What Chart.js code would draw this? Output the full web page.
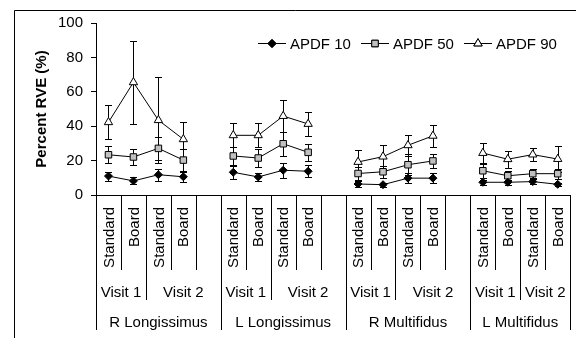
<!DOCTYPE html>
<html>
<head>
<meta charset="utf-8">
<script src="https://cdn.jsdelivr.net/npm/chart.js@4.4.1/dist/chart.umd.min.js"></script>
<style>
  html, body { margin: 0; padding: 0; background: #fff; }
  #wrap { position: relative; width: 576px; height: 338px; }
</style>
</head>
<body>
<div id="wrap"><canvas id="chart" width="576" height="338"></canvas></div>
<script>
// categories (three levels), one blank slot between muscles
const muscles = ['R Longissimus', 'L Longissimus', 'R Multifidus', 'L Multifidus'];
const visits = ['Visit 1', 'Visit 2'];
const postures = ['Standard', 'Board'];

// values, 16 per series (muscle > visit > posture)
const apdf10 = [11, 8.2, 11.8, 10.6, 13.2, 10.5, 14.4, 13.8, 6.4, 6.0, 9.8, 9.8, 7.4, 7.4, 7.8, 6.2];
const err10 = [2.6, 2, 3.5, 3, 3.7, 2.2, 4.4, 3.6, 1.5, 1.2, 3, 3, 1.5, 1.5, 1.5, 1];
const apdf50 = [23.4, 22.1, 27.1, 20.3, 22.7, 21.5, 29.8, 24.8, 12.5, 13.5, 17.6, 19.8, 14.1, 11.2, 12.4, 12.4];
const err50 = [5, 4.4, 6.5, 6.2, 5.4, 5, 7, 5, 4, 3.5, 6, 4, 4.2, 3, 2.5, 3];
const apdf90 = [42.3, 65.5, 43.5, 32.4, 34.7, 34.7, 45.9, 41.3, 19.2, 22.3, 28.9, 34.4, 24.4, 20.8, 23.5, 20.9];
const err90 = [9.8, 24.3, 25, 10.3, 7, 7, 9.3, 7, 7, 7, 6, 6.4, 6, 5, 4, 7.5];

const yTicks = [0, 20, 40, 60, 80, 100];

const FONT = 'Liberation Sans, Arial, sans-serif';

// build flat category list
const cats = [];
muscles.forEach((m, mi) => {
  visits.forEach(v => {
    postures.forEach(p => cats.push({ muscle: m, visit: v, posture: p, blank: false }));
  });
  if (mi < muscles.length - 1) cats.push({ muscle: m, visit: visits[visits.length - 1], posture: '', blank: true });
});

// spread 16 values over the category slots (blank -> null)
function spread(arr) {
  const out = [];
  let k = 0;
  for (const c of cats) out.push(c.blank ? null : arr[k++]);
  return out;
}

const series = [
  { label: 'APDF 10', values: apdf10, errors: err10, style: 'rectRot', radius: 4, fill: '#000000' },
  { label: 'APDF 50', values: apdf50, errors: err50, style: 'rect', radius: 4.6, fill: '#c0c0c0' },
  { label: 'APDF 90', values: apdf90, errors: err90, style: 'triangle', radius: 4.8, fill: '#ffffff' },
];

// error bars, drawn before the markers so they sit behind them
const errorBars = {
  id: 'errorBars',
  beforeDatasetsDraw(chart) {
    const { ctx, scales: { x, y } } = chart;
    ctx.save();
    ctx.strokeStyle = '#000';
    ctx.lineWidth = 1;
    chart.data.datasets.forEach(ds => {
      ds.data.forEach((v, i) => {
        if (v == null) return;
        const e = ds.errors[i];
        const px = Math.round(x.getPixelForValue(i)) + 0.5;
        const top = Math.round(y.getPixelForValue(v + e)) + 0.5;
        const bot = Math.round(y.getPixelForValue(v - e)) + 0.5;
        ctx.beginPath();
        ctx.moveTo(px, top); ctx.lineTo(px, bot);
        ctx.moveTo(px - 3.5, top); ctx.lineTo(px + 3.5, top);
        ctx.moveTo(px - 3.5, bot); ctx.lineTo(px + 3.5, bot);
        ctx.stroke();
      });
    });
    ctx.restore();
  }
};

// multi-level category axis + legend + chart frame
const decor = {
  id: 'decor',
  afterDraw(chart) {
    const { ctx, scales: { x }, chartArea } = chart;
    const y0 = chartArea.bottom;
    const half = (x.getPixelForValue(1) - x.getPixelForValue(0)) / 2;
    const edge = i => Math.round(x.getPixelForValue(i) - half) + 0.5;
    const n = cats.length;
    ctx.save();
    ctx.strokeStyle = '#000';
    ctx.lineWidth = 1;

    // separators
    for (let i = 0; i <= n; i++) {
      let bottom;
      if (i === 0 || i === n || cats[i].muscle !== cats[i - 1].muscle) bottom = y0 + 135;
      else if (cats[i].visit !== cats[i - 1].visit) bottom = y0 + 105;
      else bottom = y0 + 75;
      const ex = i === n ? Math.round(x.getPixelForValue(n - 1) + half) + 0.5 : edge(i);
      ctx.beginPath();
      ctx.moveTo(ex, y0);
      ctx.lineTo(ex, bottom);
      ctx.stroke();
    }

    ctx.fillStyle = '#000';
    ctx.font = '15px ' + FONT;

    // level 1: rotated posture names
    cats.forEach((c, i) => {
      if (!c.posture) return;
      ctx.save();
      ctx.translate(x.getPixelForValue(i) + 1, y0 + 12);
      ctx.rotate(-Math.PI / 2);
      ctx.textAlign = 'right';
      ctx.textBaseline = 'middle';
      ctx.fillText(c.posture, 0, 0);
      ctx.restore();
    });

    // level 2 and 3: spans
    const drawSpans = (key, yPos) => {
      let start = 0;
      for (let i = 1; i <= n; i++) {
        const brk = i === n || cats[i].muscle !== cats[start].muscle || (key === 'visit' && cats[i].visit !== cats[start].visit);
        if (brk) {
          const l = x.getPixelForValue(start) - half;
          const r = x.getPixelForValue(i - 1) + half;
          ctx.textAlign = 'center';
          ctx.textBaseline = 'middle';
          ctx.fillText(cats[start][key], (l + r) / 2, yPos);
          start = i;
        }
      }
    };
    drawSpans('visit', y0 + 98);
    drawSpans('muscle', y0 + 128);

    // legend
    const legendY = 43.5;
    const legendX = [258, 361, 464];
    chart.data.datasets.forEach((ds, k) => {
      const lx = legendX[k];
      ctx.beginPath();
      ctx.moveTo(lx, legendY);
      ctx.lineTo(lx + 28, legendY);
      ctx.stroke();
      ctx.fillStyle = ds.pointBackgroundColor;
      Chart.helpers.drawPoint(ctx, { pointStyle: ds.pointStyle, radius: ds.pointRadius, borderWidth: 1, rotation: 0 }, lx + 14, legendY);
      ctx.fill();
      ctx.stroke();
      ctx.fillStyle = '#000';
      ctx.textAlign = 'left';
      ctx.textBaseline = 'middle';
      ctx.fillText(ds.label, lx + 32, legendY + 1);
    });

    // outer frame (cut off at right and bottom)
    ctx.beginPath();
    ctx.moveTo(14.5, 338);
    ctx.lineTo(14.5, 10.5);
    ctx.lineTo(576, 10.5);
    ctx.stroke();
    ctx.restore();
  }
};

new Chart(document.getElementById('chart'), {
  type: 'line',
  data: {
    labels: cats.map(c => c.posture),
    datasets: series.map(s => ({
      label: s.label,
      data: spread(s.values),
      errors: spread(s.errors),
      borderColor: '#000',
      borderWidth: 1,
      pointStyle: s.style,
      pointRadius: s.radius,
      pointBackgroundColor: s.fill,
      pointBorderColor: '#000',
      pointBorderWidth: 1,
      spanGaps: false,
      tension: 0,
    })),
  },
  options: {
    responsive: false,
    animation: false,
    layout: { padding: { left: 0, right: 4, top: 23, bottom: 0 } },
    plugins: { legend: { display: false }, tooltip: { enabled: false } },
    scales: {
      x: {
        type: 'category',
        offset: true,
        ticks: { display: false },
        grid: { display: false },
        border: { display: true, color: '#000', width: 1 },
        afterFit: s => { s.height = 143; },
      },
      y: {
        min: 0,
        max: 100,
        afterBuildTicks: s => { s.ticks = yTicks.map(v => ({ value: v })); },
        ticks: { color: '#000', font: { family: FONT, size: 15 }, padding: 8 },
        grid: { drawOnChartArea: false, drawTicks: true, tickLength: 5, color: '#000' },
        border: { display: true, color: '#000', width: 1 },
        title: {
          display: true,
          text: 'Percent RVE (%)',
          color: '#000',
          font: { family: FONT, size: 15, weight: 'bold' },
          padding: { top: 33, bottom: 0 },
        },
        afterFit: s => { s.width = 96; },
      },
    },
  },
  plugins: [errorBars, decor],
});
</script>
</body>
</html>
